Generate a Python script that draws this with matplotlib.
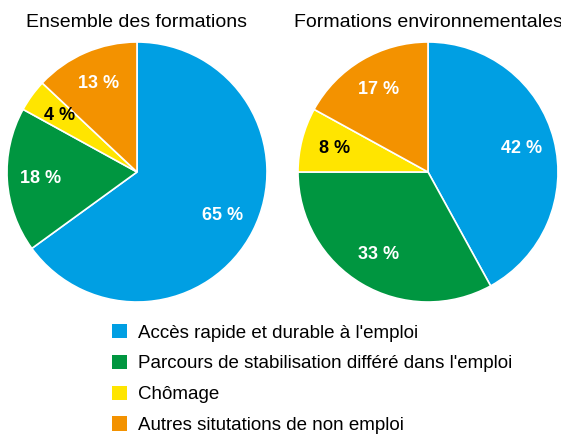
import matplotlib
matplotlib.use('Agg')
import matplotlib.pyplot as plt
from matplotlib.patches import Patch

plt.rcParams['font.family'] = ['Liberation Sans', 'DejaVu Sans']

categories = ["Accès rapide et durable à l'emploi",
              "Parcours de stabilisation différé dans l'emploi",
              "Chômage",
              "Autres situtations de non emploi"]
titles = ["Ensemble des formations", "Formations environnementales"]
ensemble = [65, 18, 4, 13]
environnement = [42, 33, 8, 17]
colors = ['#009FE3', '#009640', '#FFE500', '#F39200']
label_colors = ['white', 'white', 'black', 'white']

fig = plt.figure(figsize=(5.61, 4.34), dpi=100)
ax_left = fig.add_axes([7 / 561, 132 / 434, 260 / 561, 260 / 434])
ax_right = fig.add_axes([298 / 561, 132 / 434, 260 / 561, 260 / 434])

for ax, values, title in [(ax_left, ensemble, titles[0]), (ax_right, environnement, titles[1])]:
    wedges, texts, autotexts = ax.pie(values, colors=colors, startangle=90, counterclock=False,
                                      autopct=lambda p: f'{p:.0f} %', pctdistance=0.74,
                                      wedgeprops=dict(linewidth=1.2, edgecolor='white'))
    for t, c in zip(autotexts, label_colors):
        t.set_color(c)
        t.set_fontsize(13)
        t.set_fontweight('bold')
    ax.set_aspect('equal')
    ax.set_xlim(-1, 1)
    ax.set_ylim(-1, 1)
    ax.set_title(title, fontsize=14, pad=11)

handles = [Patch(facecolor=c, edgecolor='none') for c in colors]
fig.legend(handles, categories, loc='upper left', bbox_to_anchor=(95 / 561, 1 - 307 / 434),
           frameon=False, fontsize=13.5, handlelength=0.8, handleheight=0.8,
           handletextpad=0.6, labelspacing=0.7)

fig.savefig('out.png', dpi=100)
